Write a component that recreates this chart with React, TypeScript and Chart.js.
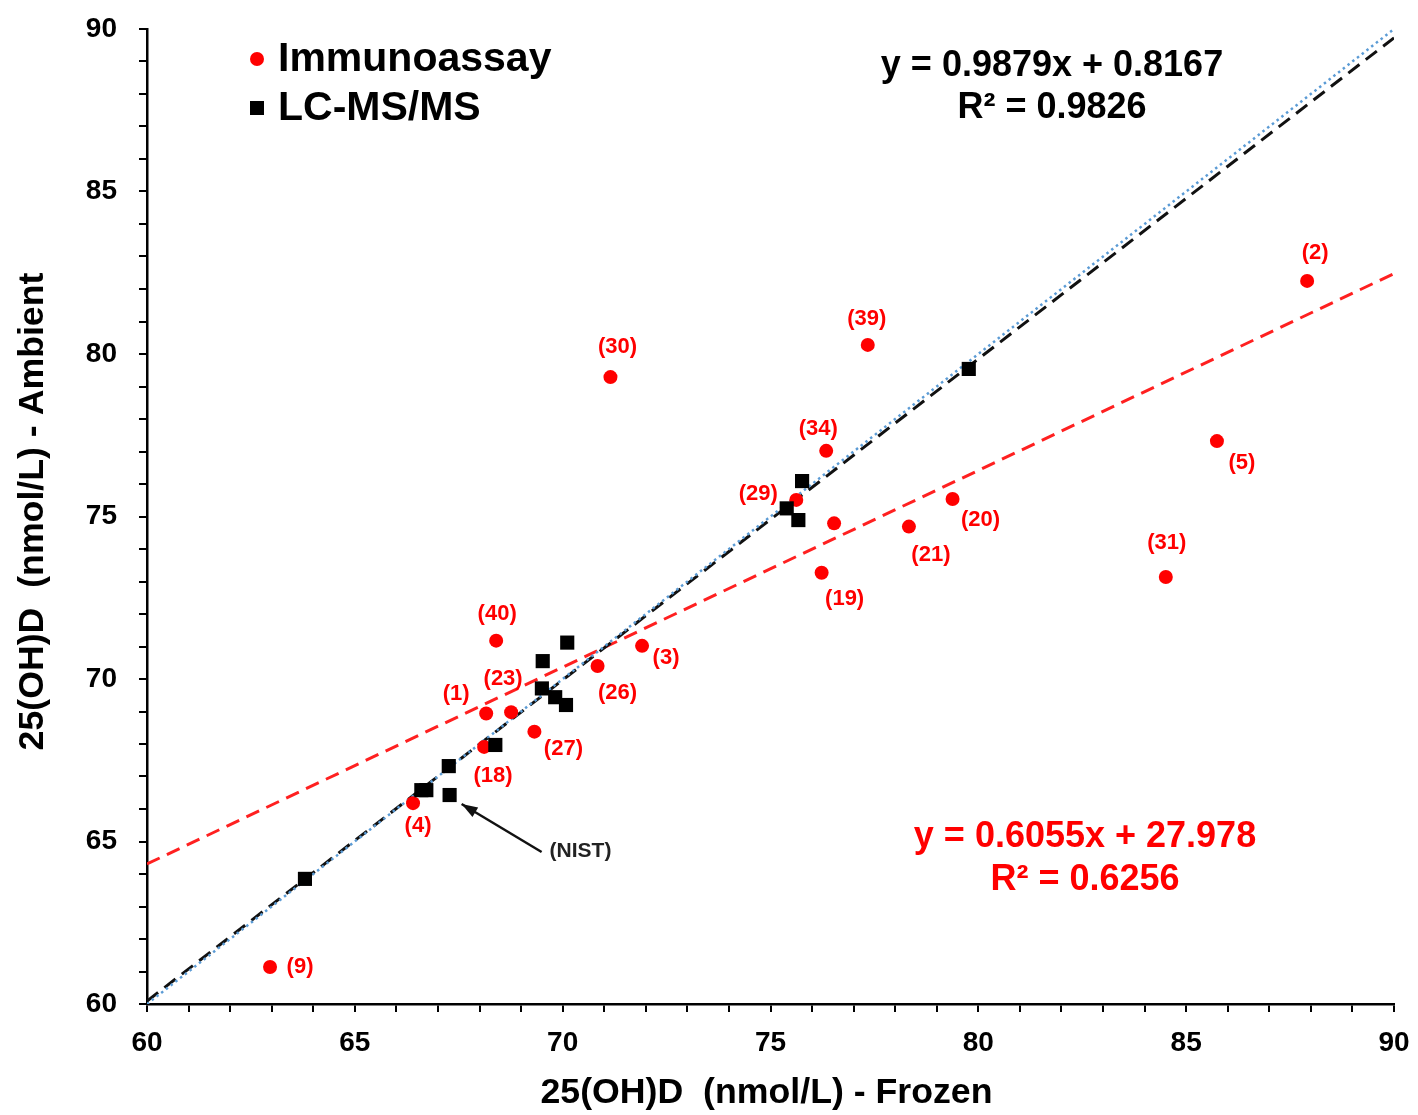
import React, { useEffect, useRef } from "react";
import { Chart, registerables } from "chart.js";

Chart.register(...registerables);

const FONT = '"Liberation Sans", Arial, Helvetica, sans-serif';

// ---- axes ----
const X_MIN = 60;
const X_MAX = 90;
const Y_MIN = 60;
const Y_MAX = 90;
const TICK_STEP = 1;
const LABEL_STEP = 5;

const xTitle = "25(OH)D  (nmol/L) - Frozen";
const yTitle = "25(OH)D  (nmol/L) - Ambient";
const seriesNames = ["Immunoassay", "LC-MS/MS"];

// ---- Immunoassay (red circles) ----
const immunoX = [62.96, 66.4, 68.11, 68.16, 68.76, 69.32, 68.4, 70.84, 71.91, 71.15, 76.34, 75.62, 76.53, 76.23, 78.33, 79.38, 77.34, 87.91, 85.74, 84.51];
const immunoY = [61.14, 66.18, 67.91, 68.94, 68.98, 68.38, 71.18, 70.4, 71.02, 79.29, 77.02, 75.51, 74.79, 73.27, 74.69, 75.54, 80.28, 82.25, 77.32, 73.14];
const immunoLabels = ["(9)", "(4)", "(18)", "(1)", "(23)", "(27)", "(40)", "(26)", "(3)", "(30)", "(34)", "(29)", "", "(19)", "(21)", "(20)", "(39)", "(2)", "(5)", "(31)"];

// ---- LC-MS/MS (black squares) ----
const lcmsX = [63.8, 66.6, 66.72, 67.26, 67.28, 68.38, 69.52, 70.11, 69.5, 69.82, 70.08, 75.76, 75.39, 75.67, 79.77];
const lcmsY = [63.85, 66.58, 66.58, 67.32, 66.43, 67.97, 70.55, 71.12, 69.71, 69.44, 69.2, 76.09, 75.25, 74.89, 79.54];
const nistIndex = 4;
const nistLabel = "(NIST)";

// ---- trendlines ----
const lcmsSlope = 0.9879;
const lcmsIntercept = 0.8167;
const lcmsR2 = 0.9826;
const immunoSlope = 0.6055;
const immunoIntercept = 27.978;
const immunoR2 = 0.6256;

// ---- layout of point labels (pixel offsets from the point) ----
const labelOffsets: [number, number][] = [
  [30, 0], [5, 23], [9, 29], [-30, -20], [-8, -33], [29, 17], [1, -27], [20, 27], [24, 12], [7, -30],
  [-8, -22], [-38, -6], [0, 0], [23, 26], [22, 28], [28, 21], [-1, -26], [8, -28], [25, 22], [1, -34],
];

const RED = "#FF0000";
const BLUE = "#5B9BD5";

const overlayPlugin = {
  id: "overlay",
  afterDatasetsDraw(chart: any) {
    const ctx = chart.ctx as CanvasRenderingContext2D;
    const xs = chart.scales.x;
    const ys = chart.scales.y;
    ctx.save();
    // point labels
    ctx.font = `bold 22px ${FONT}`;
    ctx.fillStyle = RED;
    ctx.textAlign = "center";
    ctx.textBaseline = "middle";
    immunoLabels.forEach((lab, i) => {
      if (!lab) return;
      const px = xs.getPixelForValue(immunoX[i]) + labelOffsets[i][0];
      const py = ys.getPixelForValue(immunoY[i]) + labelOffsets[i][1];
      ctx.fillText(lab, px, py);
    });
    // NIST arrow
    const nx = xs.getPixelForValue(lcmsX[nistIndex]);
    const ny = ys.getPixelForValue(lcmsY[nistIndex]);
    const tipX = nx + 12, tipY = ny + 9;
    const tailX = nx + 92, tailY = ny + 57;
    ctx.strokeStyle = "#111";
    ctx.fillStyle = "#111";
    ctx.lineWidth = 2.5;
    ctx.beginPath();
    ctx.moveTo(tailX, tailY);
    ctx.lineTo(tipX, tipY);
    ctx.stroke();
    const ang = Math.atan2(tipY - tailY, tipX - tailX);
    const hl = 16, hw = 5.5;
    ctx.beginPath();
    ctx.moveTo(tipX, tipY);
    ctx.lineTo(tipX - hl * Math.cos(ang) + hw * Math.sin(ang), tipY - hl * Math.sin(ang) - hw * Math.cos(ang));
    ctx.lineTo(tipX - hl * Math.cos(ang) - hw * Math.sin(ang), tipY - hl * Math.sin(ang) + hw * Math.cos(ang));
    ctx.closePath();
    ctx.fill();
    ctx.font = `bold 21px ${FONT}`;
    ctx.textAlign = "left";
    ctx.fillStyle = "#222";
    ctx.fillText(nistLabel, nx + 100, ny + 56);

    // equations
    const area = chart.chartArea;
    ctx.textAlign = "center";
    ctx.font = `bold 36px ${FONT}`;
    ctx.fillStyle = "#000";
    ctx.fillText(`y = ${lcmsSlope}x + ${lcmsIntercept}`, area.left + 905, area.top + 37);
    ctx.fillText(`R² = ${lcmsR2}`, area.left + 905, area.top + 79);
    ctx.fillStyle = RED;
    ctx.fillText(`y = ${immunoSlope}x + ${immunoIntercept}`, area.left + 938, area.top + 808);
    ctx.fillText(`R² = ${immunoR2}`, area.left + 938, area.top + 851);

    // legend
    ctx.fillStyle = RED;
    ctx.beginPath();
    ctx.arc(area.left + 110, area.top + 30, 7, 0, Math.PI * 2);
    ctx.fill();
    ctx.fillStyle = "#000";
    ctx.fillRect(area.left + 110 - 7, area.top + 79 - 7, 14, 14);
    ctx.font = `bold 41px ${FONT}`;
    ctx.textAlign = "left";
    ctx.fillText(seriesNames[0], area.left + 131, area.top + 31);
    ctx.fillText(seriesNames[1], area.left + 131, area.top + 80);

    // axis titles
    ctx.font = `bold 35.7px ${FONT}`;
    ctx.textAlign = "center";
    ctx.fillText(xTitle, (area.left + area.right) / 2 - 4, area.bottom + 89);
    ctx.save();
    ctx.translate(33, (area.top + area.bottom) / 2 - 5);
    ctx.rotate(-Math.PI / 2);
    ctx.fillText(yTitle, 0, 0);
    ctx.restore();
    ctx.restore();
  },
};

export default function App() {
  const ref = useRef<HTMLCanvasElement | null>(null);
  useEffect(() => {
    if (!ref.current) return;
    const pts = (xs: number[], ys: number[]) => xs.map((x, i) => ({ x, y: ys[i] }));
    const trend = (s: number, b: number) => [
      { x: X_MIN, y: s * X_MIN + b },
      { x: X_MAX, y: s * X_MAX + b },
    ];
    const tickCb = (v: any) => (Math.abs(Number(v) % LABEL_STEP) < 1e-9 ? String(v) : "");
    const chart = new Chart(ref.current, {
      type: "scatter",
      data: {
        datasets: [
          {
            type: "line",
            label: "y = x",
            data: [{ x: X_MIN, y: Y_MIN }, { x: X_MAX, y: Y_MAX }],
            borderColor: BLUE,
            borderWidth: 2.5,
            borderDash: [2.5, 3.5],
            pointRadius: 0,
            showLine: true,
            order: 3,
          } as any,
          {
            type: "line",
            label: "LC-MS/MS trend",
            data: trend(lcmsSlope, lcmsIntercept),
            borderColor: "#111",
            borderWidth: 3,
            borderDash: [14, 8],
            pointRadius: 0,
            showLine: true,
            order: 4,
          } as any,
          {
            type: "line",
            label: "Immunoassay trend",
            data: trend(immunoSlope, immunoIntercept),
            borderColor: "#FF2020",
            borderWidth: 3,
            borderDash: [14, 8],
            pointRadius: 0,
            showLine: true,
            order: 5,
          } as any,
          {
            label: seriesNames[0],
            data: pts(immunoX, immunoY),
            pointStyle: "circle",
            pointRadius: 7,
            backgroundColor: RED,
            borderWidth: 0,
            order: 2,
          },
          {
            label: seriesNames[1],
            data: pts(lcmsX, lcmsY),
            pointStyle: "rect",
            pointRadius: 10,
            backgroundColor: "#000",
            borderWidth: 0,
            order: 1,
          },
        ],
      },
      options: {
        animation: false,
        responsive: false,
        events: [],
        layout: { padding: { left: 0, top: 29, right: 24, bottom: 0 } },
        plugins: { legend: { display: false }, tooltip: { enabled: false }, title: { display: false } },
        scales: {
          x: {
            type: "linear",
            min: X_MIN,
            max: X_MAX,
            ticks: {
              stepSize: TICK_STEP,
              autoSkip: false,
              maxRotation: 0,
              callback: tickCb,
              color: "#000",
              padding: 14,
              font: { family: FONT, size: 28, weight: "bold" },
            },
            grid: { display: true, drawOnChartArea: false, drawTicks: true, tickLength: 8, color: "#000", lineWidth: 2 },
            border: { display: true, color: "#000", width: 2.5 },
            afterFit: (s: any) => {
              s.height = 111;
              s.paddingLeft = 0;
              s.paddingRight = 0;
            },
          },
          y: {
            type: "linear",
            min: Y_MIN,
            max: Y_MAX,
            ticks: {
              stepSize: TICK_STEP,
              autoSkip: false,
              callback: tickCb,
              color: "#000",
              padding: 22,
              font: { family: FONT, size: 28, weight: "bold" },
            },
            grid: { display: true, drawOnChartArea: false, drawTicks: true, tickLength: 8, color: "#000", lineWidth: 2 },
            border: { display: true, color: "#000", width: 2.5 },
            afterFit: (s: any) => {
              s.width = 147;
              s.paddingTop = 0;
              s.paddingBottom = 0;
            },
          },
        },
      } as any,
      plugins: [overlayPlugin],
    });
    return () => chart.destroy();
  }, []);
  return (
    <div style={{ position: "fixed", left: 0, top: 0, width: 1418, height: 1115, background: "#fff" }}>
      <canvas ref={ref} width={1418} height={1115} style={{ display: "block" }} />
    </div>
  );
}
